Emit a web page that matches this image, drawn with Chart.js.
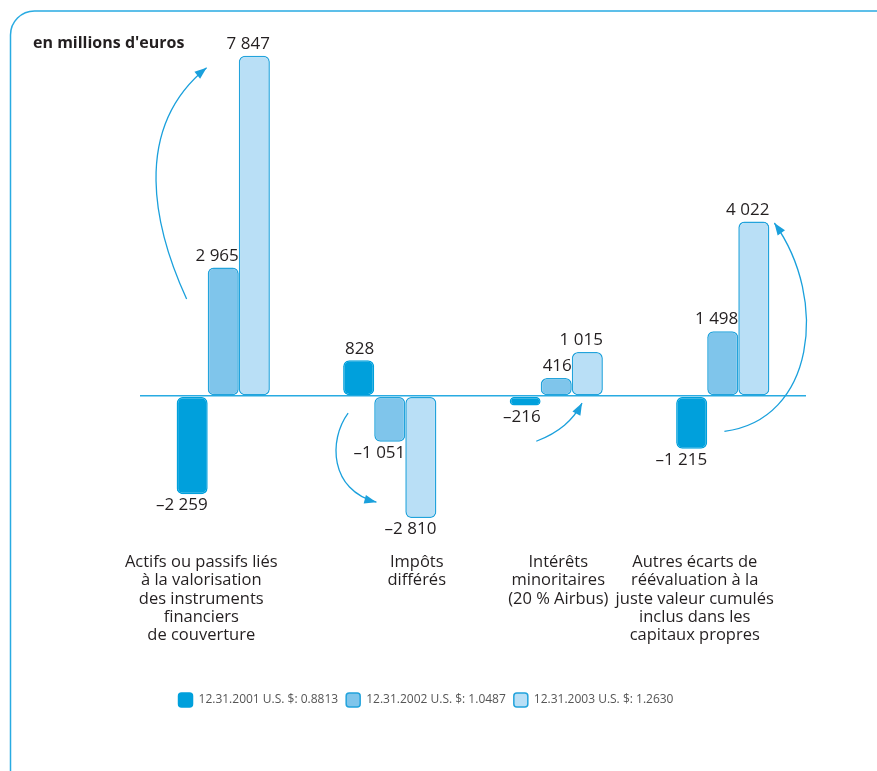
<!DOCTYPE html>
<html lang="fr">
<head>
<meta charset="utf-8">
<script src="https://cdn.jsdelivr.net/npm/chart.js@4.4.1/dist/chart.umd.min.js"></script>
<style>
  html, body { margin: 0; padding: 0; background: #fff; }
  #wrap { width: 877px; height: 771px; }
</style>
</head>
<body>
<div id="wrap"><canvas id="chart" width="877" height="771"></canvas></div>
<script>
const categories = [
  ['Actifs ou passifs liés', 'à la valorisation', 'des instruments', 'financiers', 'de couverture'],
  ['Impôts', 'différés'],
  ['Intérêts', 'minoritaires', '(20 % Airbus)'],
  ['Autres écarts de', 'réévaluation à la', 'juste valeur cumulés', 'inclus dans les', 'capitaux propres']
];
const seriesNames = ['12.31.2001 U.S. $: 0.8813', '12.31.2002 U.S. $: 1.0487', '12.31.2003 U.S. $: 1.2630'];
const values2001 = [-2259, 828, -216, -1215];
const values2002 = [2965, -1051, 416, 1498];
const values2003 = [7847, -2810, 1015, 4022];
const yMin = -3500;
const yMax = 8000;
const unitLabel = "en millions d'euros";

// curved arrows, in data units: [category position, value] for start, two controls, end
const arrows = [
  [[-0.22, 2240], [-0.41, 3830], [-0.56, 6140], [-0.10, 7570]],
  [[0.75, -390], [0.63, -1015], [0.64, -2170], [0.92, -2445]],
  [[1.88, -1040], [2.02, -830], [2.10, -555], [2.155, -160]],
  [[3.01, -810], [3.55, -555], [3.64, 2215], [3.31, 3990]]
];

const blue = '#1aa0dc';
const labelShift = [-22, 27, 2, -28];

function fmt(v) {
    const s = Math.abs(v).toString().replace(/\B(?=(\d{3})+(?!\d))/g, ' ');
    return (v < 0 ? '–' : '') + s;
}

const decor = {
    id: 'decor',
    beforeDraw(chart) {
        const c = chart.ctx;
        c.save();
        c.fillStyle = '#fff';
        c.fillRect(0, 0, chart.width, chart.height);
        c.strokeStyle = '#29abe2';
        c.lineWidth = 1.5;
        c.beginPath();
        c.roundRect(10.5, 11, 900, 800, 24);
        c.stroke();
        c.restore();
    },
    afterDatasetsDraw(chart) {
        const c = chart.ctx;
        const x = chart.scales.x, y = chart.scales.y;
        const area = chart.chartArea;
        c.save();

        // bar values, right-aligned on the bar's right edge
        c.font = '17px "Open Sans"';
        c.fillStyle = '#231f20';
        c.textAlign = 'right';
        chart.data.datasets.forEach((ds, i) => {
            chart.getDatasetMeta(i).data.forEach((bar, j) => {
                const v = ds.data[j];
                const rx = bar.x + bar.width / 2;
                if (v >= 0) {
                    c.textBaseline = 'bottom';
                    c.fillText(fmt(v), rx, bar.y - 3);
                } else {
                    c.textBaseline = 'top';
                    c.fillText(fmt(v), rx, bar.y + 3);
                }
            });
        });

        // category labels
        c.font = '16.5px "Open Sans"';
        c.textAlign = 'center';
        c.textBaseline = 'middle';
        categories.forEach((lines, i) => {
            const cx = x.getPixelForValue(i) + labelShift[i];
            lines.forEach((t, k) => c.fillText(t, cx, area.bottom + 14 + k * 18.4));
        });

        // unit label
        c.font = 'bold 16px "Open Sans"';
        c.textAlign = 'left';
        c.fillText(unitLabel, 33, 43);

        // arrows
        const x0 = x.getPixelForValue(0), step = x.getPixelForValue(1) - x0;
        const pt = p => [x0 + p[0] * step, y.getPixelForValue(p[1])];
        c.strokeStyle = blue;
        c.fillStyle = blue;
        c.lineWidth = 1.3;
        arrows.forEach(a => {
            const [p0, p1, p2, p3] = a.map(pt);
            c.beginPath();
            c.moveTo(p0[0], p0[1]);
            c.bezierCurveTo(p1[0], p1[1], p2[0], p2[1], p3[0], p3[1]);
            c.stroke();
            const ang = Math.atan2(p3[1] - p2[1], p3[0] - p2[0]);
            const len = 12, half = 4.5;
            c.beginPath();
            c.moveTo(p3[0], p3[1]);
            c.lineTo(p3[0] - len * Math.cos(ang) + half * Math.sin(ang), p3[1] - len * Math.sin(ang) - half * Math.cos(ang));
            c.lineTo(p3[0] - len * Math.cos(ang) - half * Math.sin(ang), p3[1] - len * Math.sin(ang) + half * Math.cos(ang));
            c.closePath();
            c.fill();
        });
        c.restore();
    }
};

const barStyle = { borderRadius: 6, borderSkipped: false, borderWidth: 1.5 };

new Chart(document.getElementById('chart'), {
    type: 'bar',
    data: {
        labels: categories.map(l => l.join(' ')),
        datasets: [
            { label: seriesNames[0], data: values2001, backgroundColor: '#00a0dc', borderColor: '#00a0dc', ...barStyle },
            { label: seriesNames[1], data: values2002, backgroundColor: '#7fc5eb', borderColor: '#22a3dc', ...barStyle },
            { label: seriesNames[2], data: values2003, backgroundColor: '#b9dff6', borderColor: '#22a3dc', ...barStyle }
        ]
    },
    options: {
        responsive: false,
        animation: false,
        categoryPercentage: 0.56,
        barPercentage: 1,
        layout: { padding: { left: 46, right: 71, top: 49, bottom: 54 } },
        plugins: {
            tooltip: { enabled: false },
            legend: {
                position: 'bottom',
                labels: {
                    boxWidth: 14,
                    boxHeight: 14,
                    useBorderRadius: true,
                    borderRadius: 3,
                    padding: 8,
                    color: '#555',
                    font: { family: 'Open Sans', size: 12 }
                }
            }
        },
        scales: {
            x: {
                grid: { display: false },
                border: { display: false },
                ticks: { display: false },
                afterFit(s) { s.height = 137; }
            },
            y: {
                min: yMin,
                max: yMax,
                ticks: { display: false, stepSize: 500 },
                border: { display: false },
                grid: {
                    drawTicks: false,
                    lineWidth: 1.5,
                    color: ctx => (ctx.tick && ctx.tick.value === 0) ? '#29abe2' : 'rgba(0,0,0,0)'
                },
                afterFit(s) { s.width = 94; }
            }
        }
    },
    plugins: [decor]
});
</script>
</body>
</html>
